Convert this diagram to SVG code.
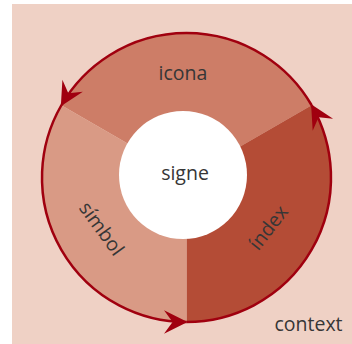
<svg xmlns="http://www.w3.org/2000/svg" width="352" height="344" viewBox="0 0 352 344">
<style>
.lbl{font-family:"Open Sans","Liberation Sans",sans-serif;font-size:19.5px;fill:#363636;text-anchor:middle}
.arc{fill:none;stroke:#a0000f;stroke-width:2.5}
</style>
<defs>
<marker id="ah" markerUnits="userSpaceOnUse" markerWidth="30" markerHeight="30" viewBox="-24 -14 28 28" refX="0" refY="0" orient="auto" overflow="visible">
<path d="M1,0 L-21,-11 L-13,0 L-21,11 Z" fill="#a0000f"/>
</marker>
</defs>
<rect id="context-bg" x="12" y="4" width="340" height="340" fill="#efd1c5"/>
<g id="icona">
<path d="M186.5,177.5 L61.36,105.25 A144.5,144.5 0 0 1 311.64,105.25 Z" fill="#cd7d67"/>
<text class="lbl" x="183" y="80">icona</text>
</g>
<g id="index">
<path d="M186.5,177.5 L311.64,105.25 A144.5,144.5 0 0 1 186.5,322 Z" fill="#b44c36"/>
<text class="lbl" transform="translate(269,228) rotate(-52)" x="0" y="6">índex</text>
</g>
<g id="simbol">
<path d="M186.5,177.5 L186.5,322 A144.5,144.5 0 0 1 61.36,105.25 Z" fill="#d99a85"/>
<text class="lbl" transform="translate(101,229) rotate(54)" x="0" y="6">símbol</text>
</g>
<g id="signe">
<circle cx="183" cy="175" r="64" fill="#ffffff"/>
<text class="lbl" x="185" y="180">signe</text>
</g>
<g id="connectors">
<path class="arc" d="M186.5,322 A144.5,144.5 0 0 0 311.64,105.25" marker-end="url(#ah)"/>
<path class="arc" d="M311.64,105.25 A144.5,144.5 0 0 0 61.36,105.25" marker-end="url(#ah)"/>
<path class="arc" d="M61.36,105.25 A144.5,144.5 0 0 0 186.5,322" marker-end="url(#ah)"/>
</g>
<g id="context">
<text class="lbl" x="308.5" y="331">context</text>
</g>
</svg>
